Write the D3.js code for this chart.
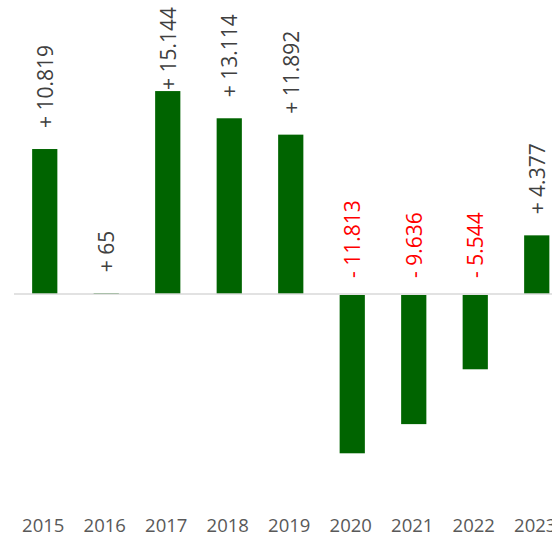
<!DOCTYPE html>
<html>
<head>
<meta charset="utf-8">
<script src="https://cdn.jsdelivr.net/npm/d3@7"></script>
<style>
  body { margin: 0; background: #fff; }
  svg { display: block; font-family: "Open Sans", sans-serif; }
</style>
</head>
<body>
<div id="chart"></div>
<script>
// yearly change, bars go up or down from zero
const years = ["2015", "2016", "2017", "2018", "2019", "2020", "2021", "2022", "2023"];
const changes = [10819, 65, 15144, 13114, 11892, -11813, -9636, -5544, 4377];
const labels = ["+ 10.819", "+ 65", "+ 15.144", "+ 13.114", "+ 11.892", "- 11.813", "- 9.636", "- 5.544", "+ 4.377"];

const width = 552;
const height = 537;

const svg = d3.select("#chart").append("svg")
    .attr("width", width)
    .attr("height", height)
    .attr("viewBox", [0, 0, width, height]);

// scales
const x = d3.scaleBand()
    .domain(years)
    .range([14, 567.5])
    .paddingInner(0.59)
    .paddingOuter(0.295);

const y = d3.scaleLinear()
    .domain([-15000, 15000])
    .range([495, 93]);

// bars
svg.append("g")
  .selectAll("rect")
  .data(changes)
  .join("rect")
    .attr("x", (d, i) => x(years[i]))
    .attr("width", x.bandwidth())
    .attr("y", d => d >= 0 ? y(d) : y(0) + 1)
    .attr("height", d => Math.abs(y(d) - y(0)))
    .attr("fill", "#006400");

// zero line
svg.append("line")
    .attr("x1", 14)
    .attr("x2", width)
    .attr("y1", y(0))
    .attr("y2", y(0))
    .attr("stroke", "#d9d9d9")
    .attr("stroke-width", 1.5);

// value labels, rotated, always above the zero line
svg.append("g")
  .selectAll("text")
  .data(changes)
  .join("text")
    .attr("transform", (d, i) => {
      const cx = x(years[i]) + x.bandwidth() / 2;
      let yy = d >= 0 ? y(d) - 21 : y(0) - 16;
      if (d >= 0) yy = Math.max(yy, 90); // keep inside the chart top
      return `translate(${cx + 8},${yy}) rotate(-90)`;
    })
    .attr("font-size", 21)
    .attr("fill", d => d < 0 ? "#ff0000" : "#404040")
    .text((d, i) => labels[i]);

// year axis
svg.append("g")
    .attr("transform", `translate(-1.5,${532})`)
    .call(d3.axisBottom(x).tickSize(0).tickPadding(0))
    .call(g => g.select(".domain").remove())
    .call(g => g.selectAll("text")
        .attr("dy", 0)
        .attr("font-family", "Open Sans, sans-serif")
        .attr("font-size", 18.5)
        .attr("fill", "#595959"));
</script>
</body>
</html>
